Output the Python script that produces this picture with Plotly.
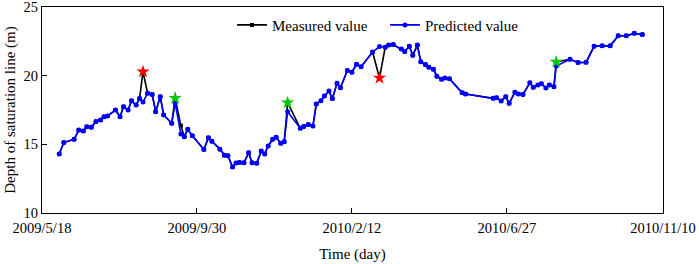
import plotly.graph_objects as go

dates = [
    "2009-06-02", "2009-06-06", "2009-06-15", "2009-06-19", "2009-06-23", "2009-06-26",
    "2009-06-30", "2009-07-04", "2009-07-08", "2009-07-11", "2009-07-14", "2009-07-21",
    "2009-07-25", "2009-07-28", "2009-08-01", "2009-08-04", "2009-08-08", "2009-08-11",
    "2009-08-14", "2009-08-18", "2009-08-22", "2009-08-25", "2009-08-29", "2009-09-01",
    "2009-09-08", "2009-09-11", "2009-09-16", "2009-09-19", "2009-09-22", "2009-09-26",
    "2009-10-06", "2009-10-10", "2009-10-13", "2009-10-20", "2009-10-24", "2009-10-27",
    "2009-10-31", "2009-11-03", "2009-11-06", "2009-11-10", "2009-11-14", "2009-11-17",
    "2009-11-21", "2009-11-25", "2009-11-28", "2009-12-01", "2009-12-05", "2009-12-08",
    "2009-12-12", "2009-12-15", "2009-12-18", "2009-12-29", "2010-01-01", "2010-01-05",
    "2010-01-09", "2010-01-12", "2010-01-16", "2010-01-19", "2010-01-23", "2010-01-26",
    "2010-01-30", "2010-02-02", "2010-02-08", "2010-02-12", "2010-02-16", "2010-02-20",
    "2010-03-02", "2010-03-08", "2010-03-13", "2010-03-16", "2010-03-20", "2010-03-27",
    "2010-03-30", "2010-04-03", "2010-04-06", "2010-04-10", "2010-04-13", "2010-04-17",
    "2010-04-20", "2010-04-24", "2010-04-27", "2010-05-01", "2010-05-04", "2010-05-08",
    "2010-05-19", "2010-05-22", "2010-06-15", "2010-06-18", "2010-06-22", "2010-06-26",
    "2010-06-29", "2010-07-04", "2010-07-07", "2010-07-11", "2010-07-17", "2010-07-20",
    "2010-07-24", "2010-07-27", "2010-07-31", "2010-08-03", "2010-08-07", "2010-08-09",
    "2010-08-21", "2010-08-28", "2010-09-04", "2010-09-11", "2010-09-18", "2010-09-25",
    "2010-10-02", "2010-10-09", "2010-10-16", "2010-10-23",
]

measured = [
    14.30, 15.13, 15.37, 16.04, 15.97, 16.28,
    16.24, 16.66, 16.77, 17.01, 17.06, 17.50,
    17.01, 17.74, 17.50, 18.17, 17.86, 18.34,
    20.29, 18.72, 18.63, 17.38, 18.47, 17.14,
    16.53, 18.37, 16.36, 15.56, 16.09, 15.62,
    14.62, 15.48, 15.22, 14.65, 14.20, 14.17,
    13.35, 13.64, 13.68, 13.66, 14.39, 13.66,
    13.62, 14.51, 14.30, 14.88, 15.37, 15.51,
    15.08, 15.19, 18.03, 16.17, 16.30, 16.44,
    16.33, 17.94, 18.17, 18.52, 18.88, 18.33,
    19.44, 19.12, 20.38, 20.25, 20.83, 20.65,
    21.72, 19.83, 22.07, 22.23, 22.27, 21.94,
    21.76, 22.14, 21.48, 22.23, 21.02, 20.81,
    20.62, 20.47, 19.95, 19.74, 19.83, 19.77,
    18.76, 18.66, 18.35, 18.40, 18.16, 18.47,
    17.99, 18.80, 18.66, 18.63, 19.48, 19.15,
    19.32, 19.41, 19.10, 19.32, 19.20, 21.00,
    21.19, 20.96, 20.97, 22.15, 22.17, 22.17,
    22.91, 22.91, 23.08, 22.99,
]

predicted = [
    14.30, 15.13, 15.37, 16.04, 15.97, 16.28,
    16.24, 16.66, 16.77, 17.01, 17.06, 17.50,
    17.01, 17.74, 17.50, 18.17, 17.86, 18.34,
    18.08, 18.72, 18.63, 17.38, 18.47, 17.14,
    16.53, 18.01, 15.75, 15.56, 16.09, 15.62,
    14.62, 15.48, 15.22, 14.65, 14.20, 14.17,
    13.35, 13.64, 13.68, 13.66, 14.39, 13.66,
    13.62, 14.51, 14.30, 14.88, 15.37, 15.51,
    15.08, 15.19, 17.38, 16.17, 16.30, 16.44,
    16.33, 17.94, 18.17, 18.52, 18.88, 18.33,
    19.44, 19.12, 20.38, 20.25, 20.83, 20.65,
    21.72, 22.12, 22.07, 22.23, 22.27, 21.94,
    21.76, 22.14, 21.48, 22.23, 21.02, 20.81,
    20.62, 20.47, 19.95, 19.74, 19.83, 19.77,
    18.76, 18.66, 18.35, 18.40, 18.16, 18.47,
    17.99, 18.80, 18.66, 18.63, 19.48, 19.15,
    19.32, 19.41, 19.10, 19.32, 19.20, 20.70,
    21.19, 20.96, 20.97, 22.15, 22.17, 22.17,
    22.91, 22.91, 23.08, 22.99,
]

red_star_dates = ["2009-08-14", "2010-03-08"]
green_star_dates = ["2009-09-11", "2009-12-18", "2010-08-09"]

tick_dates = ["2009-05-18", "2009-09-30", "2010-02-12", "2010-06-27", "2010-11-10"]
tick_labels = ["2009/5/18", "2009/9/30", "2010/2/12", "2010/6/27", "2010/11/10"]
y_ticks = [10, 15, 20, 25]

lookup = dict(zip(dates, measured))

FONT = "Liberation Serif, Times New Roman, serif"

fig = go.Figure()
fig.add_trace(go.Scatter(
    x=dates, y=measured, mode="lines+markers", name="Measured value",
    line=dict(color="black", width=1.6),
    marker=dict(symbol="square", size=4, color="black"),
))
fig.add_trace(go.Scatter(
    x=dates, y=predicted, mode="lines+markers", name="Predicted value",
    line=dict(color="#0000ff", width=1.6),
    marker=dict(symbol="circle", size=5, color="#0000ff"),
))
fig.add_trace(go.Scatter(
    x=red_star_dates, y=[lookup[d] for d in red_star_dates], mode="markers",
    marker=dict(symbol="star", size=10, color="#ff0000", line=dict(width=0)),
    showlegend=False,
))
fig.add_trace(go.Scatter(
    x=green_star_dates, y=[lookup[d] for d in green_star_dates], mode="markers",
    marker=dict(symbol="star", size=10, color="#00c800", line=dict(width=0)),
    showlegend=False,
))

fig.update_layout(
    width=699, height=264,
    margin=dict(l=42, r=36, t=7, b=51),
    paper_bgcolor="white", plot_bgcolor="white",
    font=dict(family=FONT, size=14.5, color="black"),
    showlegend=True,
    legend=dict(
        orientation="h", x=0.306, y=0.912, xanchor="left", yanchor="middle",
        bgcolor="rgba(0,0,0,0)", font=dict(family=FONT, size=15),
        itemwidth=30, tracegroupgap=0, entrywidth=108, entrywidthmode="pixels",
    ),
)
fig.update_xaxes(
    type="date", range=["2009-05-18", "2010-11-10"],
    tickmode="array", tickvals=tick_dates, ticktext=tick_labels,
    ticks="inside", ticklen=5, tickwidth=1, tickcolor="black",
    showline=True, linecolor="black", linewidth=1, mirror=True,
    showgrid=False, zeroline=False, automargin=False,
    ticklabeloverflow="allow", ticklabelstandoff=2,
    title=dict(text="Time (day)", standoff=13, font=dict(size=15)),
    tickfont=dict(size=14.5),
)
fig.update_yaxes(
    range=[10, 25], tickmode="array", tickvals=y_ticks,
    ticks="inside", ticklen=5, tickwidth=1, tickcolor="black",
    showline=True, linecolor="black", linewidth=1, mirror=True,
    showgrid=False, zeroline=False, automargin=False,
    ticklabeloverflow="allow",
    title=dict(text="Depth of saturation line (m)", standoff=4, font=dict(size=15)),
    tickfont=dict(size=14.5),
)

fig.write_html(
    "out.html",
    config={"displayModeBar": False},
    post_script="document.body.style.margin='0';document.body.style.padding='0';",
)
